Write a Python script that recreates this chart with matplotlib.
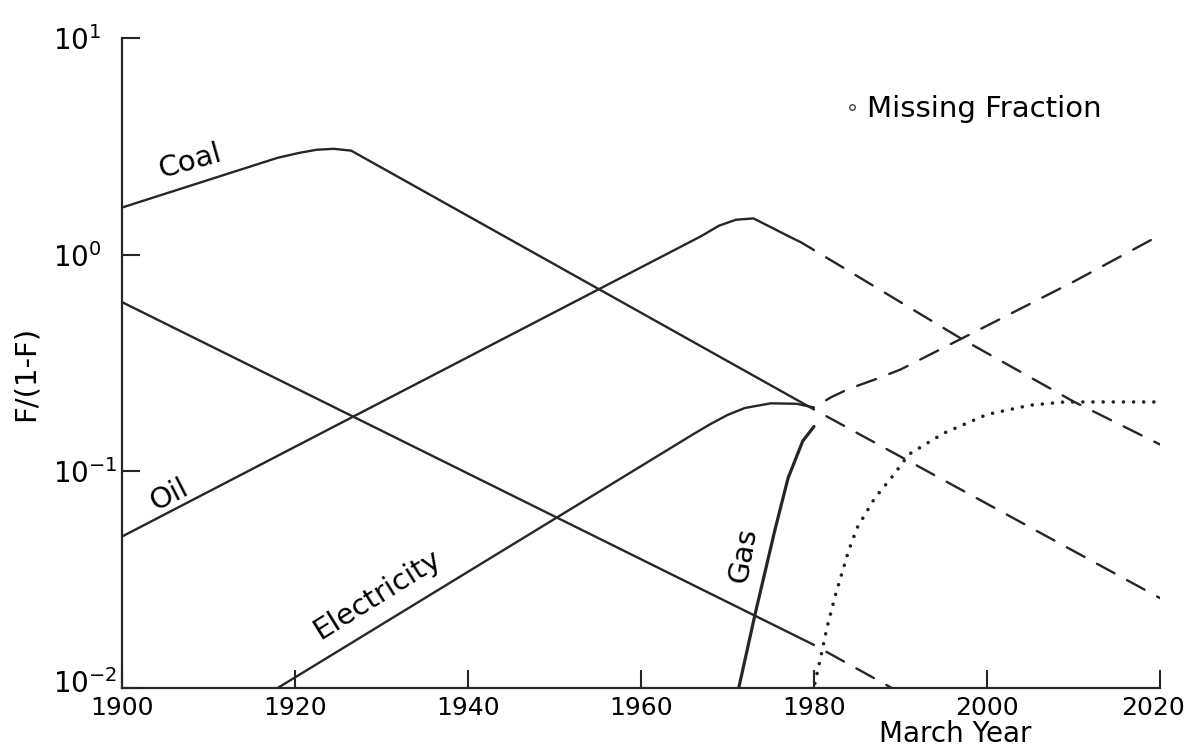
import matplotlib
matplotlib.use('Agg')
import matplotlib.pyplot as plt
from matplotlib.ticker import NullLocator
from matplotlib.transforms import ScaledTranslation

plt.rcParams['font.family'] = ['DejaVu Sans']
plt.rcParams['font.size'] = 21

# F/(1-F) for each fuel, read year by year
coal_years = [1900, 1918, 1920.5, 1922.5, 1924.5, 1926.5, 1980]
coal = [1.65, 2.8, 2.95, 3.05, 3.08, 3.02, 0.193]
coal_proj_years = [1980, 2020]
coal_proj = [0.193, 0.026]

oil_years = [1900, 1967, 1969, 1971, 1973, 1975, 1977, 1978.5, 1980]
oil = [0.05, 1.22, 1.36, 1.45, 1.47, 1.34, 1.22, 1.14, 1.05]
oil_proj_years = [1980, 1997, 2010, 2020]
oil_proj = [1.05, 0.41, 0.21, 0.133]

elec_years = [1918, 1966, 1968, 1970, 1972, 1975, 1978, 1980]
elec = [0.01, 0.148, 0.165, 0.182, 0.196, 0.206, 0.205, 0.197]
elec_proj_years = [1980, 1982, 1984, 1987, 1990, 2000, 2010, 2020]
elec_proj = [0.197, 0.22, 0.24, 0.265, 0.295, 0.47, 0.75, 1.23]

gas_years = [1971.3, 1973.2, 1975.5, 1977, 1978.7, 1980]
gas = [0.01, 0.022, 0.054, 0.093, 0.138, 0.161]

other_years = [1900, 1980]
other = [0.604, 0.0158]
other_proj_years = [1980, 1989]
other_proj = [0.0158, 0.01]

missing_years = [1980.1, 1980.8, 1981.5, 1982.5, 1984, 1985, 1987, 1989,
                 1991, 1995, 2000, 2005, 2009, 2020]
missing = [0.0105, 0.014, 0.019, 0.027, 0.043, 0.055, 0.075, 0.094,
           0.12, 0.15, 0.183, 0.202, 0.209, 0.209]

year_ticks = [1900, 1920, 1940, 1960, 1980, 2000, 2020]
ratio_ticks = [0.01, 0.1, 1, 10]
ratio_labels = [r'$\mathdefault{10^{-2}}$', r'$\mathdefault{10^{-1}}$',
                r'$\mathdefault{10^{0}}$', r'$\mathdefault{10^{1}}$']

ink = '#262626'
solid = dict(color=ink, lw=1.7, solid_capstyle='round')
dashed = dict(color=ink, lw=1.7, linestyle=(8.5, (8.5, 6)), dash_capstyle='round')

fig = plt.figure(figsize=(11.89, 7.51), dpi=100)
ax = fig.add_axes([0.1026, 0.0839, 0.8730, 0.8655])

ax.plot(coal_years, coal, **solid)
ax.plot(coal_proj_years, coal_proj, **dashed)
ax.plot(oil_years, oil, **solid)
ax.plot(oil_proj_years, oil_proj, **dashed)
ax.plot(elec_years, elec, **solid)
ax.plot(elec_proj_years, elec_proj, **dashed)
ax.plot(other_years, other, **solid)
ax.plot(other_proj_years, other_proj, **dashed)
ax.plot(gas_years, gas, color=ink, lw=2.3, solid_capstyle='round')
ax.plot(missing_years, missing, color='#222222', lw=2.6,
        linestyle=(0, (0.01, 2.8)), dash_capstyle='round')

# curve labels
ax.text(1907.9, 2.7, 'Coal', rotation=16, ha='center', va='center')
ax.text(1905.5, 0.078, 'Oil', rotation=27, ha='center', va='center')
ax.text(1929.5, 0.027, 'Electricity', rotation=32, ha='center', va='center')
ax.text(1971.8, 0.041, 'Gas', rotation=80, ha='center', va='center')
ax.plot([1984.4], [4.8], marker='o', ms=4, mfc='white', mec='#444444', mew=1)
ax.text(1986.1, 4.71, 'Missing Fraction', ha='left', va='center')

ax.set_yscale('log')
ax.set_xlim(1900, 2020)
ax.set_ylim(0.01, 10)
ax.set_xticks(year_ticks)
ax.set_yticks(ratio_ticks)
ax.set_yticklabels(ratio_labels)
ax.yaxis.set_minor_locator(NullLocator())
for lbl in ax.get_yticklabels():
    lbl.set_horizontalalignment('left')

ax.tick_params(direction='in', length=13, width=1.5, color=ink)
ax.tick_params(axis='y', pad=49.7, labelsize=20)
ax.tick_params(axis='x', pad=6, labelsize=18)

# nudge the corner labels so they stay clear of each other and the edge
bottom_lbl = ax.get_yticklabels()[0]
bottom_lbl.set_transform(bottom_lbl.get_transform() + ScaledTranslation(0, 0.07, fig.dpi_scale_trans))
last = ax.get_xticklabels()[-1]
last.set_transform(last.get_transform() + ScaledTranslation(-0.07, 0, fig.dpi_scale_trans))

for side in ['top', 'right']:
    ax.spines[side].set_visible(False)
for side in ['left', 'bottom']:
    ax.spines[side].set_linewidth(1.6)
    ax.spines[side].set_color(ink)

ax.set_ylabel('F/(1-F)')
ax.yaxis.set_label_coords(-0.079, 0.4846)
ax.set_xlabel('March Year', fontsize=20)
ax.xaxis.set_label_coords(0.8025, -0.050)

fig.savefig('out.png', dpi=100)
